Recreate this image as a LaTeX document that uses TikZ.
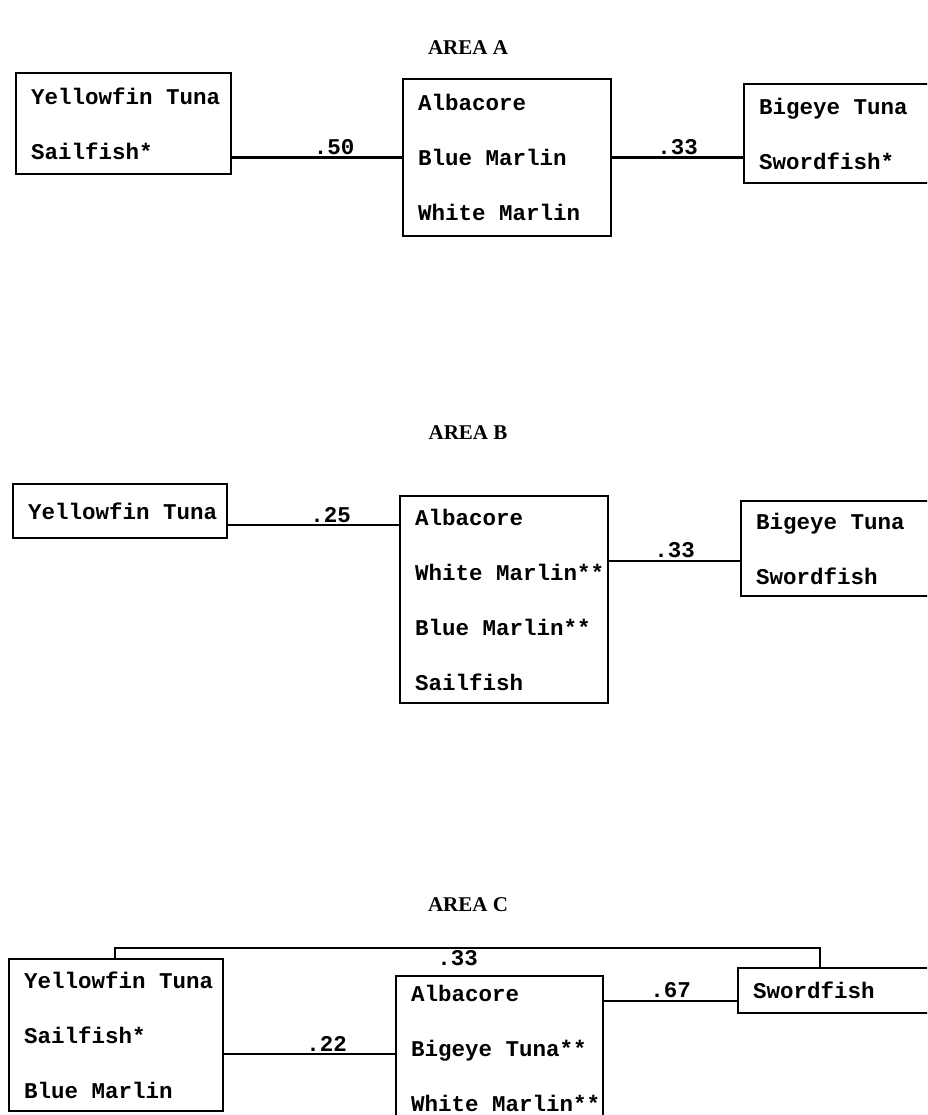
\documentclass[tikz,border=0pt]{standalone}
\usepackage{fontspec}
\setmonofont{Liberation Mono}
\newfontfamily\headfont{Liberation Serif}

\begin{document}
\begin{tikzpicture}[x=1pt,y=-1pt,
      fishbox/.style={draw,line width=2.2pt,anchor=north west,align=left,inner xsep=15pt,inner ysep=0pt,
        font=\ttfamily\bfseries\fontsize{22.5}{55}\selectfont,execute at begin node={\spaceskip=13.5pt\relax}},
      link/.style={line width=2.2pt},
      simval/.style={above,inner sep=1.5pt,font=\ttfamily\bfseries\fontsize{22.5}{27}\selectfont},
      areahead/.style={font=\headfont\bfseries\fontsize{21}{25}\selectfont}]
      \useasboundingbox (0,0) rectangle (927,1115);
      \clip (0,0) rectangle (927,1115);
      % area A
      \node[areahead] (headA) at (468,48) {AREA A};
      \node[fishbox,text width=185pt,minimum height=101pt] (a1) at (15,72) {Yellowfin~Tuna\\Sailfish*};
      \node[fishbox,text width=178pt,minimum height=157pt] (a2) at (402,78) {Albacore\\Blue~Marlin\\White~Marlin};
      \node[fishbox,text width=170pt,minimum height=99pt] (a3) at (743,83) {Bigeye~Tuna\\Swordfish*};
      \draw[link] (a1.east |- a2.west) -- node[simval,pos=0.6] {.50} (a2.west);
      \draw[link] (a2.east) -- node[simval] {.33} (a3.west |- a2.east);
      % area B
      \node[areahead] (headB) at (468,433) {AREA B};
      \node[fishbox,text width=184pt,minimum height=54pt] (b1) at (12,483) {Yellowfin~Tuna};
      \node[fishbox,text width=178pt,minimum height=207pt] (b2) at (399,495) {Albacore\\White~Marlin**\\Blue~Marlin**\\Sailfish};
      \node[fishbox,text width=170pt,minimum height=95pt] (b3) at (740,500) {Bigeye~Tuna\\Swordfish};
      \coordinate (b1out) at ([yshift=-14pt]b1.east);
      \coordinate (b3in) at ([yshift=-12pt]b3.west);
      \draw[link] (b1out) -- node[simval,pos=0.6] {.25} (b2.west |- b1out);
      \draw[link] (b2.east |- b3in) -- node[simval] {.33} (b3in);
      % area C
      \node[areahead] (headC) at (468,905) {AREA C};
      \node[fishbox,text width=184pt,minimum height=152pt] (c1) at (8,958) {Yellowfin~Tuna\\Sailfish*\\Blue~Marlin};
      \node[fishbox,text width=177pt,minimum height=145pt] (c2) at (395,975) {Albacore\\Bigeye~Tuna**\\White~Marlin**};
      \node[fishbox,text width=170pt,minimum height=45pt] (c3) at (737,967) {Swordfish};
      \coordinate (c1out) at ([yshift=-19pt]c1.east);
      \coordinate (c3in) at ([yshift=-10pt]c3.west);
      \coordinate (c1top) at ([xshift=107pt]c1.north west);
      \coordinate (c3top) at ([xshift=83pt]c3.north west);
      \draw[link] (c1out) -- node[simval,pos=0.6] {.22} (c2.west |- c1out);
      \draw[link] (c2.east |- c3in) -- node[simval] {.67} (c3in);
      \draw[link] (c1top) -- ++(0,-10)
        -| node[pos=0.243,below,inner sep=1pt,font=\ttfamily\bfseries\fontsize{22.5}{27}\selectfont] {.33} (c3top);
    \end{tikzpicture}
\end{document}
